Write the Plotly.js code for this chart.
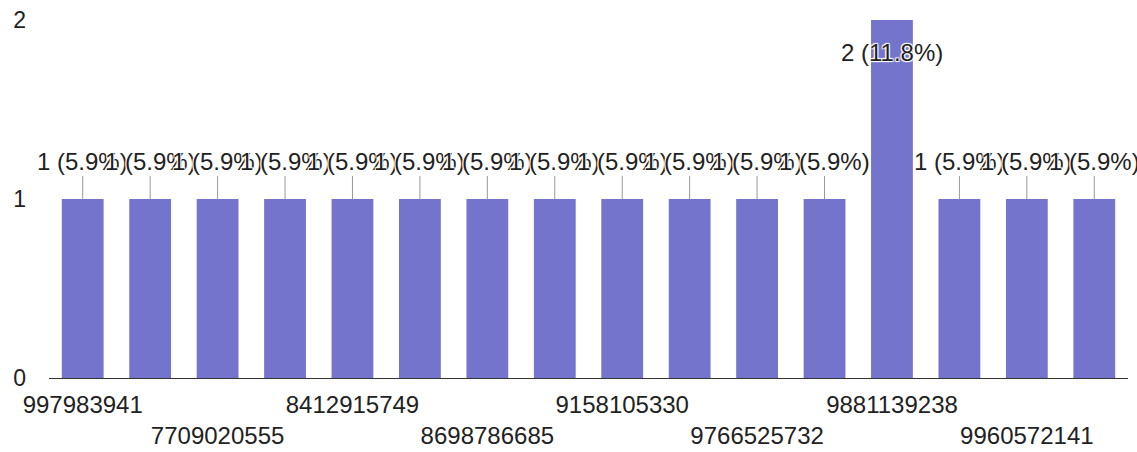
<!DOCTYPE html>
<html>
<head>
<meta charset="utf-8">
<script src="https://cdn.plot.ly/plotly-3.0.1.min.js"></script>
<style>html,body{margin:0;padding:0;background:#fff}#chart{width:1137px;height:452px}</style>
</head>
<body>
<div id="chart"></div>
<script>
// Values (16 bars; only every other category label is shown)
const tickLabels = ['997983941', '7709020555', '8412915749', '8698786685', '9158105330', '9766525732', '9881139238', '9960572141'];
const labelledIndex = [0, 2, 4, 6, 8, 10, 12, 14];
const counts = [1, 1, 1, 1, 1, 1, 1, 1, 1, 1, 1, 1, 2, 1, 1, 1];
const percents = ['5.9%', '5.9%', '5.9%', '5.9%', '5.9%', '5.9%', '5.9%', '5.9%', '5.9%', '5.9%', '5.9%', '5.9%', '11.8%', '5.9%', '5.9%', '5.9%'];

const xs = counts.map((_, i) => i);
const maxCount = Math.max(...counts);
const halo = '1px 1px 1px #fff, -1px -1px 1px #fff, 1px -1px 1px #fff, -1px 1px 1px #fff';

const annotations = counts.map((c, i) => ({
  x: i, y: c, xref: 'x', yref: 'y',
  text: c + ' (' + percents[i] + ')',
  showarrow: c < maxCount,
  arrowhead: 0, arrowwidth: 1, arrowcolor: '#999', standoff: 0,
  ax: 0, ay: -38,
  yshift: c < maxCount ? 0 : -32,
  font: {family: 'Liberation Sans, Arial, sans-serif', size: 24, color: '#222', shadow: halo}
}));

const data = [{
  type: 'bar', x: xs, y: counts,
  marker: {color: '#7474cc'},
  hoverinfo: 'skip'
}];

const layout = {
  width: 1137, height: 452,
  margin: {l: 49, r: 9, t: 20, b: 74},
  paper_bgcolor: '#fff', plot_bgcolor: '#fff',
  bargap: 0.38,
  showlegend: false,
  font: {family: 'Liberation Sans, Arial, sans-serif', size: 24, color: '#222'},
  xaxis: {
    range: [-0.5, 15.5],
    tickvals: labelledIndex,
    ticktext: tickLabels.map((t, k) => (k % 2 === 1 ? '<br>' + t : t)),
    tickangle: 0,
    showgrid: false, zeroline: false,
    showline: true, linecolor: '#333', linewidth: 1,
    ticks: '', ticklen: 0,
    ticklabelstandoff: 5,
    tickfont: {size: 24, color: '#222'},
    automargin: false
  },
  yaxis: {
    range: [0, 2],
    tickvals: [0, 1, 2],
    showgrid: false, zeroline: false, showline: false,
    ticks: '',
    ticklabelstandoff: 22,
    tickfont: {size: 23, color: '#222'},
    automargin: false
  },
  annotations: annotations
};

Plotly.newPlot('chart', data, layout, {displayModeBar: false, staticPlot: true});
</script>
</body>
</html>
